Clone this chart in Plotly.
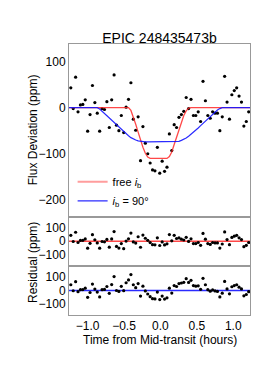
import numpy as np
import plotly.graph_objects as go

title = "EPIC 248435473b"
x_label = "Time from Mid-transit (hours)"
y_label_main = "Flux Deviation (ppm)"
y_label_res = "Residual (ppm)"
x_range = [-1.255, 1.23]

time_h = [-1.230, -1.197, -1.164, -1.131, -1.098, -1.065, -1.032, -0.999, -0.966, -0.933,
          -0.900, -0.867, -0.834, -0.801, -0.768, -0.735, -0.702, -0.669, -0.636, -0.603,
          -0.570, -0.537, -0.504, -0.471, -0.438, -0.405, -0.372, -0.339, -0.306, -0.273,
          -0.240, -0.207, -0.174, -0.141, -0.108, -0.075, -0.042, -0.009, 0.024, 0.057,
          0.090, 0.123, 0.156, 0.189, 0.222, 0.255, 0.288, 0.321, 0.354, 0.387,
          0.420, 0.453, 0.486, 0.519, 0.552, 0.585, 0.618, 0.651, 0.684, 0.717,
          0.750, 0.783, 0.816, 0.849, 0.882, 0.915, 0.948, 0.981, 1.014, 1.047,
          1.080, 1.113, 1.146, 1.179, 1.212]

flux_ppm = [43, -2, 66, -9, 6, 7, 17, -51, -15, 48,
            11, -12, -51, -2, -4, 13, -43, 17, 71, -38,
            -50, -17, -54, 1, 18, 54, -25, -49, -20, -115,
            -41, -77, -100, -120, -135, -137, -86, -142, -116, -138,
            -129, -57, -93, -37, -43, -21, -15, -8, 22, -2,
            18, -17, -17, -9, -30, 57, 15, -17, -23, -9,
            -12, -12, -50, -20, 68, 12, -25, 28, 37, 43,
            25, 12, -40, -30, -9]

model_free = [0] * 25 + [-6, -20, -36, -53, -71, -86, -99, -107, -110,
                         -110, -111, -111, -111, -111, -111, -110,
                         -106, -96, -80, -63, -46, -30, -17, -7, -1] + [0] * 25

model_90 = [0] * 12 + [-3, -8, -12, -17, -22, -27, -33, -38, -43, -48, -53, -57, -61,
                       -65, -68, -70, -72, -73,
                       -73, -74, -74, -74, -74, -74, -74, -74, -74, -74, -74, -74, -74, -74, -73,
                       -73, -71, -69, -66, -62, -58, -54, -49, -44, -39, -34, -28, -23,
                       -18, -13, -9, -5, -2] + [0] * 12

main_ticks = [100, 0, -100, -200]
res_ticks = [100, 0, -100]
x_ticks = [-1.0, -0.5, 0.0, 0.5, 1.0]

t = np.array(time_h)
f = np.array(flux_ppm)
m1 = np.array(model_free)
m2 = np.array(model_90)
res1 = f - m1
res2 = f - m2

RED = "rgba(255,40,40,0.85)"
BLUE = "rgba(20,20,255,0.9)"
FONT = "Liberation Sans, Arial, sans-serif"
FS = 12

# page body has an 8px default margin; the figure is sized/offset to compensate
OFF = 8
W, HT = 278 - OFF, 371 - OFF
ML, MR, MT, MB = 69 - OFF, 28, 44 - OFF, 56

fig = go.Figure()

line_t = [x_range[0]] + time_h + [x_range[1]]
fig.add_trace(go.Scatter(x=t, y=f, mode="markers", marker=dict(color="black", size=3.2),
                         showlegend=False, xaxis="x", yaxis="y"))
fig.add_trace(go.Scatter(x=line_t, y=[0] + model_free + [0], mode="lines",
                         line=dict(color=RED, width=1.3), showlegend=False, xaxis="x", yaxis="y"))
fig.add_trace(go.Scatter(x=line_t, y=[0] + model_90 + [0], mode="lines",
                         line=dict(color=BLUE, width=1.2), showlegend=False, xaxis="x", yaxis="y"))
# legend entries
fig.add_trace(go.Scatter(x=[None], y=[None], mode="lines", name="free <i>i</i><sub>b</sub>",
                         line=dict(color="rgba(255,60,60,0.5)", width=2), xaxis="x", yaxis="y"))
fig.add_trace(go.Scatter(x=[None], y=[None], mode="lines", name="<i>i</i><sub>b</sub> = 90°",
                         line=dict(color=BLUE, width=1.2), xaxis="x", yaxis="y"))

fig.add_trace(go.Scatter(x=line_t, y=[0] * len(line_t), mode="lines",
                         line=dict(color=RED, width=1.3), showlegend=False, xaxis="x2", yaxis="y2"))
fig.add_trace(go.Scatter(x=t, y=res1, mode="markers", marker=dict(color="black", size=3.2),
                         showlegend=False, xaxis="x2", yaxis="y2"))
fig.add_trace(go.Scatter(x=line_t, y=[0] * len(line_t), mode="lines",
                         line=dict(color=BLUE, width=1.3), showlegend=False, xaxis="x3", yaxis="y3"))
fig.add_trace(go.Scatter(x=t, y=res2, mode="markers", marker=dict(color="black", size=3.2),
                         showlegend=False, xaxis="x3", yaxis="y3"))

H = float(HT - MT - MB)
PW = float(W - ML - MR)
bot = 315 - OFF
d_main = (bot - (216.5 - OFF)) / H
d_r1 = (bot - (266 - OFF)) / H

axis_common = dict(showline=True, linecolor="#999999", linewidth=1, mirror=True,
                   showgrid=False, zeroline=False, ticks="", automargin=False,
                   tickfont=dict(size=FS, color="black", family=FONT))

fig.update_layout(
    template="none",
    width=W, height=HT,
    margin=dict(l=ML, r=MR, t=MT, b=MB, autoexpand=False),
    paper_bgcolor="white", plot_bgcolor="white",
    font=dict(family=FONT, size=FS, color="black"),
    title=dict(text=title, x=0.5, xref="paper", xanchor="center", y=1 - (38 - OFF) / HT,
               yanchor="middle", font=dict(size=14, color="black", family=FONT)),
    xaxis=dict(range=x_range, domain=[0, 1], anchor="y", showticklabels=False, **axis_common),
    yaxis=dict(range=[-236, 138], domain=[d_main, 1], anchor="x", tickvals=main_ticks, **axis_common),
    xaxis2=dict(range=x_range, domain=[0, 1], anchor="y2", showticklabels=False, **axis_common),
    yaxis2=dict(range=[-181, 181], domain=[d_r1, d_main], anchor="x2", tickvals=res_ticks, **axis_common),
    xaxis3=dict(range=x_range, domain=[0, 1], anchor="y3", tickvals=x_ticks, tickformat=".1f",
                **axis_common),
    yaxis3=dict(range=[-183, 183], domain=[0, d_r1], anchor="x3", tickvals=res_ticks, **axis_common),
    legend=dict(x=0.02, y=0.545, xanchor="left", yanchor="top", bgcolor="rgba(0,0,0,0)",
                font=dict(size=11, color="black", family=FONT), tracegroupgap=0,
                itemwidth=30, borderwidth=0),
    annotations=[
        dict(text=y_label_main, textangle=-90, xref="paper", yref="paper",
             x=(33 - 69) / PW, y=(d_main + 1) / 2, xanchor="center", yanchor="middle",
             showarrow=False, font=dict(size=FS, color="black", family=FONT)),
        dict(text=y_label_res, textangle=-90, xref="paper", yref="paper",
             x=(33 - 69) / PW, y=(bot - (263 - OFF)) / H, xanchor="center", yanchor="middle",
             showarrow=False, font=dict(size=FS, color="black", family=FONT)),
        dict(text=x_label, xref="paper", yref="paper",
             x=0.5, y=-(340 - 315) / H, xanchor="center", yanchor="middle",
             showarrow=False, font=dict(size=FS, color="black", family=FONT)),
    ],
)

fig.write_html("out.html")
